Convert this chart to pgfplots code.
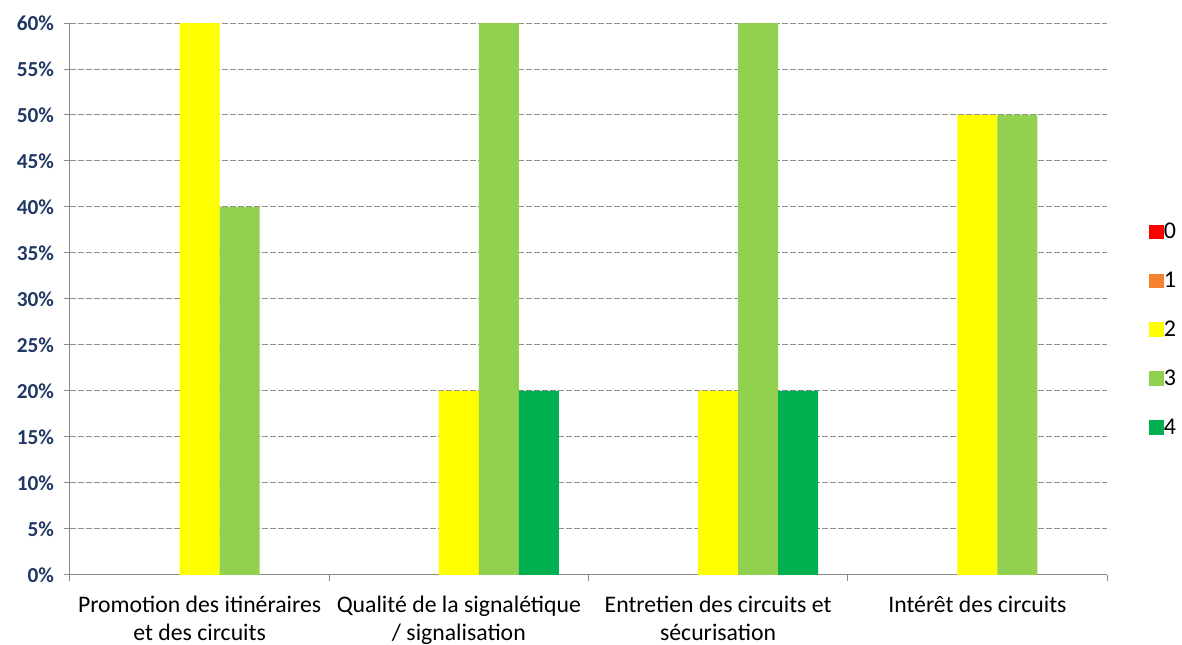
\documentclass[border=0pt]{standalone}
\usepackage{fontspec}
\setmainfont{Carlito}
\usepackage{pgfplots}
\pgfplotsset{compat=1.18}
\definecolor{c0}{HTML}{FF0000}
\definecolor{c1}{HTML}{F7822F}
\definecolor{c2}{HTML}{FFFF00}
\definecolor{c3}{HTML}{92D050}
\definecolor{c4}{HTML}{00B050}
\definecolor{navy}{HTML}{1F3864}
\definecolor{axgray}{HTML}{8A8A8A}
\definecolor{gridgray}{HTML}{8C8C8C}
\begin{document}
\begin{tikzpicture}
\path[use as bounding box] (-52.5pt,-52.5pt) rectangle (834pt,431.25pt);
\begin{axis}[
  scale only axis, width=777.75pt, height=414pt,
  bar width=30pt,
  xmin=-0.5, xmax=3.5, ymin=0, ymax=60,
  axis x line*=bottom, axis y line*=left,
  axis line style={axgray, line width=0.75pt},
  xtick={-0.5,0.5,1.5,2.5,3.5}, xticklabels={},
  extra x ticks={0,1,2,3},
  extra x tick labels={{Promotion des itinéraires\\et des circuits},{Qualité de la signalétique\\/ signalisation},{Entretien des circuits et\\sécurisation},{Intérêt des circuits}},
  extra x tick style={major tick length=0pt, grid=none,
    tick label style={align=center, font=\fontsize{17.8}{21}\selectfont, text=black, yshift=-12pt}},
  ytick={0,5,...,60},
  yticklabel={\pgfmathprintnumber{\tick}\%},
  /pgf/number format/assume math mode=true,
  yticklabel style={font=\fontsize{16}{18}\selectfont\bfseries, text=navy, xshift=-4pt},
  ymajorgrids, grid style={gridgray, dash pattern=on 4.5pt off 1.5pt, line width=0.75pt},
  tick style={axgray, line width=0.75pt},
  tick align=outside, major tick length=4.5pt,
  legend style={at={(1.0405,0.4444)}, anchor=west, draw=none, fill=none, inner sep=0pt,
    font=\fontsize{18}{20}\selectfont, row sep=23.5pt,
    nodes={inner sep=0pt, anchor=west},
    /tikz/every even column/.append style={column sep=5.5pt}},
  legend cell align=left,
  legend image code/.code={\fill[#1] (0pt,-5.5pt) rectangle (11pt,5.5pt);},
]
\addlegendimage{fill=c0, draw=none}
\addlegendimage{fill=c1, draw=none}
\addplot[ybar, bar shift=0pt, fill=c2, draw=none] coordinates {(0,60) (1,20) (2,20) (3,50)};
\addplot[ybar, bar shift=30pt, fill=c3, draw=none] coordinates {(0,40) (1,60) (2,60) (3,50)};
\addplot[ybar, bar shift=60pt, fill=c4, draw=none] coordinates {(1,20) (2,20)};
\legend{0,1,2,3,4}
\end{axis}
\end{tikzpicture}
\end{document}
